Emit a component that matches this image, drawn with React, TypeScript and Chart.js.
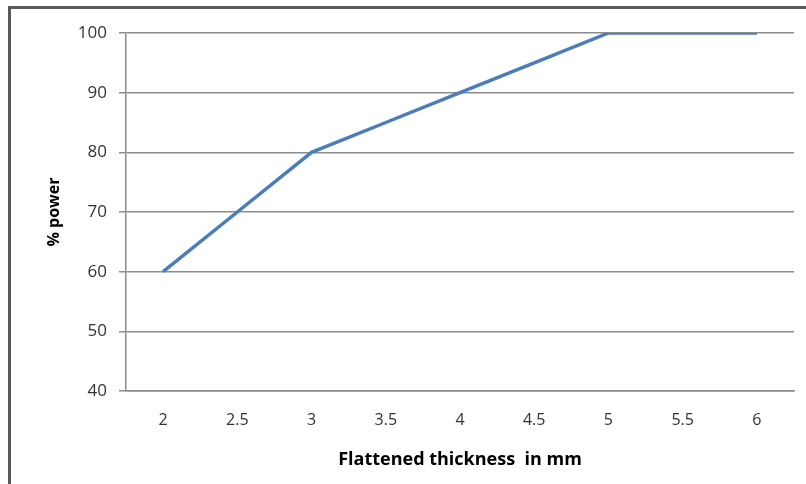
import React, { useEffect, useRef } from "react";
import { Chart, registerables } from "chart.js";

Chart.register(...registerables);

const categories = ["2", "2.5", "3", "3.5", "4", "4.5", "5", "5.5", "6"];
const powerValues = [60, 70, 80, 85, 90, 95, 100, 100, 100];
const yTitle = "% power";
const xTitle = "Flattened thickness  in mm";

export default function App() {
  const ref = useRef<HTMLCanvasElement | null>(null);
  useEffect(() => {
    if (!ref.current) return;
    const chart = new Chart(ref.current, {
      type: "line",
      data: {
        labels: categories,
        datasets: [
          {
            data: powerValues,
            borderColor: "#4a7ebb",
            borderWidth: 3.5,
            pointRadius: 0,
            tension: 0,
            fill: false,
          },
        ],
      },
      options: {
        animation: false,
        responsive: false,
        maintainAspectRatio: false,
        layout: { padding: { top: 33, right: 12, left: 0, bottom: 0 } },
        plugins: { legend: { display: false }, tooltip: { enabled: false } },
        scales: {
          x: {
            offset: true,
            grid: { display: false, drawTicks: false },
            border: { display: true, color: "#8c8c8c", width: 1.5 },
            ticks: {
              padding: 20,
              color: "#333",
              font: { family: "Open Sans", size: 16 },
              maxRotation: 0,
            },
            title: {
              display: true,
              text: xTitle,
              color: "#000",
              font: { family: "Open Sans", size: 18, weight: "bold" },
              padding: { top: 0, bottom: 13 },
            },
            afterFit: (s: any) => {
              s.height = 484 - 391;
            },
          },
          y: {
            min: 40,
            max: 100,
            ticks: {
              stepSize: 10,
              padding: 12,
              color: "#333",
              font: { family: "Open Sans", size: 17 },
            },
            grid: { color: "#8c8c8c", lineWidth: 1.5, tickLength: 7, drawTicks: true },
            border: { display: true, color: "#8c8c8c", width: 1.5 },
            title: {
              display: true,
              text: yTitle,
              color: "#000",
              font: { family: "Open Sans", size: 16, weight: "bold" },
              padding: { top: 45, bottom: 0 },
            },
            afterFit: (s: any) => {
              s.width = 126;
            },
          },
        },
      },
    });
    return () => chart.destroy();
  }, []);
  return (
    <div style={{ position: "absolute", left: 0, top: 0, width: 806, height: 484, background: "#fff", overflow: "hidden" }}>
      <canvas ref={ref} width={806} height={484} style={{ position: "absolute", left: 0, top: 0, width: 806, height: 484 }} />
      <div
        style={{
          position: "absolute",
          left: 8,
          top: 6,
          width: 806,
          height: 484,
          borderTop: "3px solid #595959",
          borderLeft: "3px solid #595959",
          pointerEvents: "none",
        }}
      />
    </div>
  );
}
